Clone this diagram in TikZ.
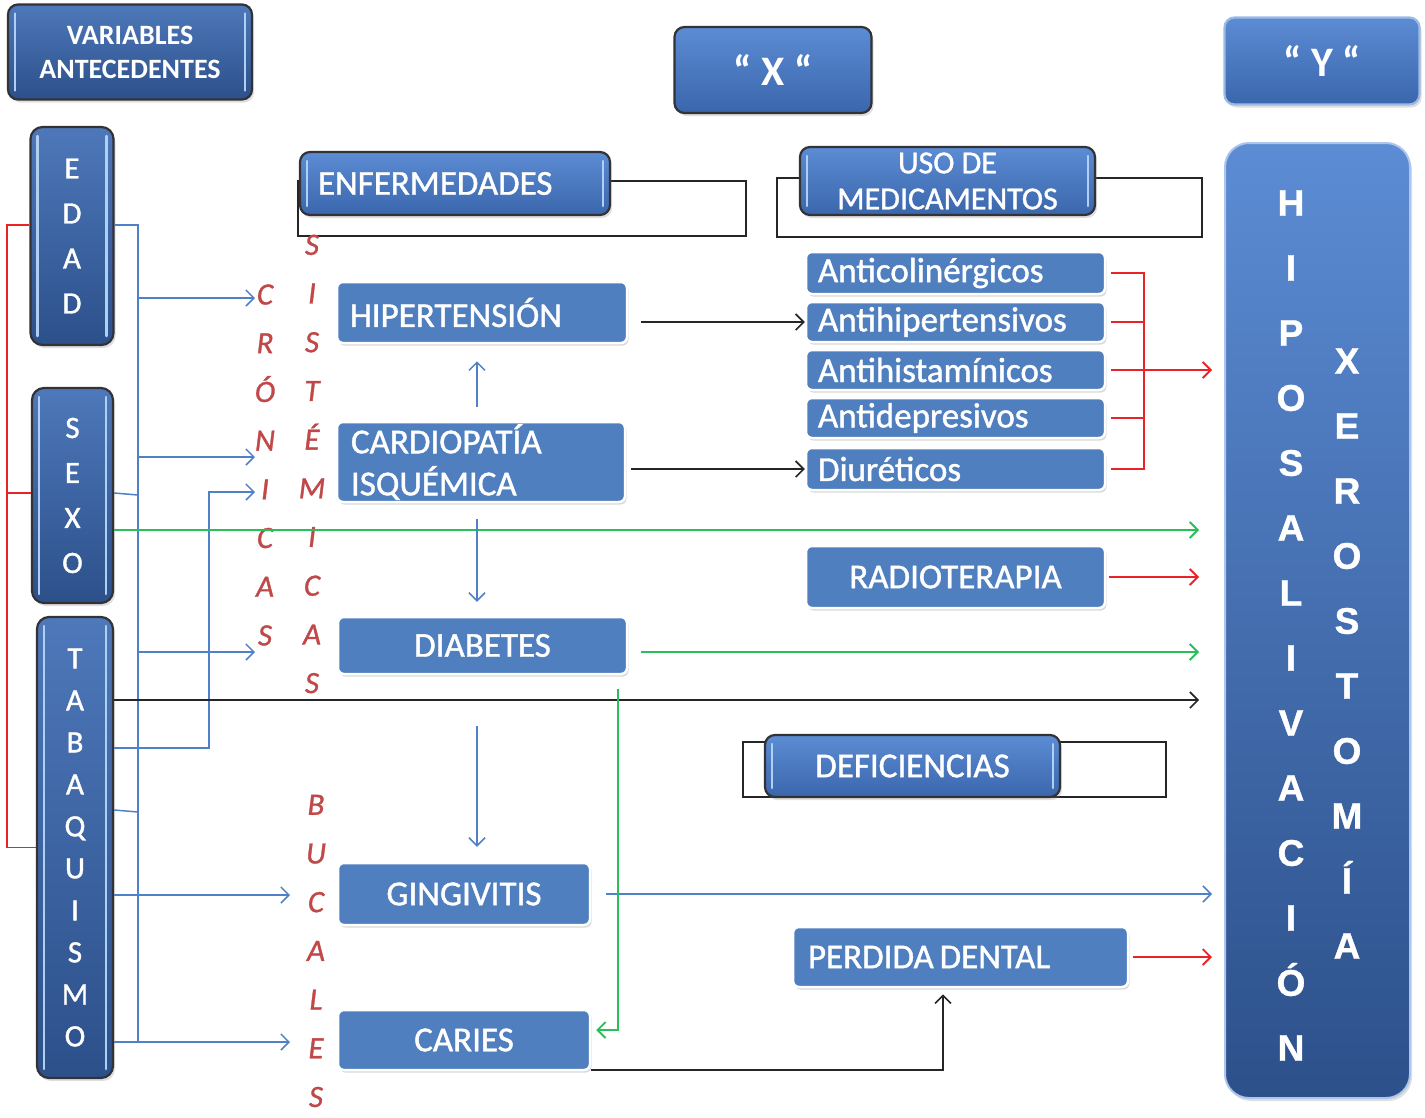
\documentclass[tikz,border=0pt]{standalone}
\usepackage{fontspec}
\setmainfont{Carlito}
\newfontfamily\thick{Carlito}[FakeBold=1.2]
\newfontfamily\thickit{Carlito}[FakeBold=1.0,UprightFont=*-Italic]
\newfontfamily\lib{Liberation Sans}[FakeBold=1.0]
\usetikzlibrary{arrows.meta,shadows}
\definecolor{hdrTop}{RGB}{78,120,186}
\definecolor{hdrBot}{RGB}{44,80,138}
\definecolor{hdrTopL}{RGB}{92,140,212}
\definecolor{hdrBotL}{RGB}{58,102,172}
\definecolor{boxblue}{RGB}{79,127,191}
\definecolor{barblue}{RGB}{175,208,242}
\definecolor{lineblue}{RGB}{79,129,200}
\definecolor{linegreen}{RGB}{40,190,90}
\definecolor{linered}{RGB}{235,35,40}
\definecolor{txtred}{RGB}{192,72,72}
\definecolor{edge}{RGB}{50,50,55}
\tikzset{
  hdr/.style={rounded corners=10pt, top color=hdrTop, bottom color=hdrBot, draw=edge,
    line width=2.2pt, text=white, inner sep=0pt, align=center,
    drop shadow={shadow xshift=2pt, shadow yshift=-3pt, opacity=0.25}},
  hdrL/.style={hdr, top color=hdrTopL, bottom color=hdrBotL},
  bars/.style={path picture={
    \draw[barblue, line width=2.5pt, line cap=round]
      ([xshift=7pt,yshift=-9pt]path picture bounding box.north west) --
      ([xshift=7pt,yshift=9pt]path picture bounding box.south west);
    \draw[barblue, line width=2.5pt, line cap=round]
      ([xshift=-7pt,yshift=-9pt]path picture bounding box.north east) --
      ([xshift=-7pt,yshift=9pt]path picture bounding box.south east);}},
  lbox/.style={rounded corners=6pt, fill=boxblue, draw=white, line width=2.5pt,
    text=white, inner sep=0pt, font=\thick\fontsize{35}{42}\selectfont,
    drop shadow={shadow xshift=1.5pt, shadow yshift=-2.5pt, opacity=0.3}},
  outl/.style={draw=black!85, line width=1.6pt, inner sep=0pt},
  vlet/.style={text=white, align=center, inner sep=0pt, font=\thick\fontsize{31}{45}\selectfont},
  redlet/.style={text=txtred, align=center, inner sep=0pt, font=\thickit\fontsize{31}{48.7}\selectfont},
  arr/.style={-{Straight Barb[length=8pt,width=16pt]}},
  bl/.style={draw=lineblue, line width=1.5pt},
  gl/.style={draw=linegreen, line width=1.8pt},
  rl/.style={draw=linered, line width=1.8pt},
  kl/.style={draw=black!85, line width=1.6pt},
}
\begin{document}
\begin{tikzpicture}[x=1pt,y=-1pt]
\useasboundingbox[fill=white] (0,0) rectangle (1425,1117);

% outline rectangles behind headers
\node[outl, minimum width=448pt, minimum height=55pt] (enfR) at (522,208.5) {};
\node[outl, minimum width=425pt, minimum height=59pt] (usoR) at (989.5,207.5) {};
\node[outl, minimum width=423pt, minimum height=55pt] (defR) at (954.5,769.5) {};

% header boxes
\node[hdr, bars, minimum width=244pt, minimum height=95pt, font=\bfseries\fontsize{28}{34}\selectfont]
  (var) at (130,52) {VARIABLES\\ANTECEDENTES};
\node[hdrL, minimum width=197pt, minimum height=86pt, font=\bfseries\fontsize{42}{44}\selectfont]
  (X) at (773,70) {“ X “};
\node[hdrL, draw=hdrTopL!60!white, minimum width=195pt, minimum height=87pt, font=\bfseries\fontsize{42}{44}\selectfont]
  (Y) at (1322,61) {“ Y “};

\node[hdr, bars, minimum width=83pt, minimum height=218pt, rounded corners=12pt] (edad) at (72,236) {};
\node[vlet] (edadT) at (edad.center) {E\\D\\A\\D};
\node[hdr, bars, minimum width=81pt, minimum height=215pt, rounded corners=12pt] (sexo) at (72.5,495.5) {};
\node[vlet] (sexoT) at (sexo.center) {S\\E\\X\\O};
\node[hdr, bars, minimum width=76pt, minimum height=461pt, rounded corners=12pt] (tabaq) at (75,847.5) {};
\node[vlet, font=\thick\fontsize{31}{42}\selectfont] (tabaqT) at (tabaq.center) {T\\A\\B\\A\\Q\\U\\I\\S\\M\\O};

\node[hdrL, bars, minimum height=63pt, text width=274pt, inner xsep=18pt, align=left,
  font=\thick\fontsize{35}{40}\selectfont] (enf) at (455,183.5) {ENFERMEDADES};
\node[hdrL, bars, minimum width=295pt, minimum height=68pt, font=\thick\fontsize{32}{36}\selectfont]
  (uso) at (947.5,181) {USO DE\\MEDICAMENTOS};
\node[hdrL, bars, minimum width=295pt, minimum height=62pt, font=\thick\fontsize{35}{40}\selectfont]
  (def) at (912.5,766) {DEFICIENCIAS};

% big outcome box
\node[rounded corners=24pt, top color=hdrTopL, bottom color=hdrBot, draw=hdrTopL!50!white,
  line width=2pt, minimum width=185pt, minimum height=955pt, inner sep=0pt,
  drop shadow={shadow xshift=2pt, shadow yshift=-3pt, opacity=0.25}] (hipo) at (1317.5,620.5) {};
\node[text=white, align=center, inner sep=0pt, font=\lib\bfseries\fontsize{37}{65}\selectfont]
  (hipoT) at (1291,625.5) {H\\I\\P\\O\\S\\A\\L\\I\\V\\A\\C\\I\\Ó\\N};
\node[text=white, align=center, inner sep=0pt, font=\lib\bfseries\fontsize{37}{65}\selectfont]
  (xeroT) at (1347,653.5) {X\\E\\R\\O\\S\\T\\O\\M\\Í\\A};

% light boxes
\node[lbox, minimum height=61pt, text width=264pt, inner xsep=13pt, align=left] (hiper) at (482,312.5) {HIPERTENSIÓN};
\node[lbox, minimum height=80pt, text width=260pt, inner xsep=14pt, align=left] (cardio) at (481,462) {CARDIOPATÍA\\ISQUÉMICA};
\node[lbox, minimum height=57pt, minimum width=289pt] (diab) at (482.5,645.5) {DIABETES};
\node[lbox, minimum height=62pt, minimum width=252pt] (ging) at (464,894) {GINGIVITIS};
\node[lbox, minimum height=60pt, minimum width=252pt] (caries) at (464,1040) {CARIES};
\node[lbox, minimum height=62pt, minimum width=299pt] (radio) at (955.5,577) {RADIOTERAPIA};
\node[lbox, minimum height=60pt, text width=305pt, inner xsep=15pt, align=left] (perd) at (960.5,957) {PERDIDA\,DENTAL};

\node[lbox, minimum height=42pt, text width=275pt, inner xsep=12pt, align=left] (anticol) at (955.5,273) {Anticolinérgicos};
\node[lbox, minimum height=40pt, text width=275pt, inner xsep=12pt, align=left] (antihip) at (955.5,322) {Antihipertensivos};
\node[lbox, minimum height=40pt, text width=275pt, inner xsep=12pt, align=left] (antihist) at (955.5,370) {Antihistamínicos};
\node[lbox, minimum height=40pt, text width=275pt, inner xsep=12pt, align=left] (antidep) at (955.5,418) {Antidepresivos};
\node[lbox, minimum height=42pt, text width=275pt, inner xsep=12pt, align=left] (diur) at (955.5,469) {Diuréticos};

% red italic vertical words
\node[redlet] (cron) at (265,465) {C\\R\\Ó\\N\\I\\C\\A\\S};
\node[redlet] (sist) at (312,464) {S\\I\\S\\T\\É\\M\\I\\C\\A\\S};
\node[redlet] (buc) at (316,951) {B\\U\\C\\A\\L\\E\\S};

% ---- connectors ----
% left red bracket
\draw[rl] ([yshift=11pt]edad.west) -- ++(-22.5,0) |- (tabaq.west);
\draw[rl] ([yshift=2.5pt]sexo.west) -- ++(-24,0);

% left blue trunk
\coordinate (bT) at ([xshift=23.5pt,yshift=11pt]edad.east);
\coordinate (aC) at (255,298);
\coordinate (aN) at (255,457);
\coordinate (aI) at (255,492);
\coordinate (aS) at (255,652);
\coordinate (aBc) at (290,895);
\coordinate (aBe) at (290,1042);
\draw[bl] ([yshift=11pt]edad.east) -- (bT) -- (bT |- aBe);
\draw[bl] ([yshift=2.5pt]sexo.east) -- ++(24,2);
\draw[bl] ([yshift=37.5pt]tabaq.east) -- ++(24,2);
\draw[bl,arr] (bT |- aC) -- (aC);
\draw[bl,arr] (bT |- aN) -- (aN);
\draw[bl,arr] (bT |- aS) -- (aS);
\draw[bl,arr] (tabaq.east |- aBc) -- (aBc);
\draw[bl,arr] (tabaq.east |- aBe) -- (aBe);
\draw[bl,arr] ([yshift=99.5pt]tabaq.east) -- ++(95,0) |- (aI);

% long lines to outcome
\draw[gl,arr,shorten >=25pt] ([yshift=-34.5pt]sexo.east) -- ([yshift=-34.5pt]sexo.east -| hipo.west);
\draw[kl,arr,shorten >=25pt] ([yshift=147.5pt]tabaq.east) -- ([yshift=147.5pt]tabaq.east -| hipo.west);
\draw[gl,arr,shorten <=13pt,shorten >=25pt] ([yshift=-6.5pt]diab.east) -- ([yshift=-6.5pt]diab.east -| hipo.west);
\draw[rl,arr,shorten <=3pt,shorten >=25pt] (radio.east) -- (radio.east -| hipo.west);
\draw[bl,arr,shorten <=15pt,shorten >=12pt] (ging.east) -- (ging.east -| hipo.west);
\draw[rl,arr,shorten <=4pt,shorten >=12pt] (perd.east) -- (perd.east -| hipo.west);

% medications bracket
\draw[rl] ([xshift=5pt]anticol.east) -- ++(33,0) |- ([xshift=5pt]diur.east);
\draw[rl] ([xshift=5pt]antihip.east) -- ++(33,0);
\draw[rl] ([xshift=5pt]antidep.east) -- ++(33,0);
\draw[rl,arr,shorten <=5pt,shorten >=12pt] (antihist.east) -- (antihist.east -| hipo.west);

% disease arrows
\draw[kl,arr,shorten <=13pt] (hiper.east |- antihip.west) -- (antihip.west);
\draw[kl,arr,shorten <=5pt] (cardio.east |- diur.west) -- (diur.west);
\draw[bl,arr,shorten <=14pt,shorten >=17pt] ([xshift=-4pt]cardio.north) -- ([xshift=-4pt]cardio.north |- hiper.south);
\draw[bl,arr,shorten <=16pt,shorten >=14pt] ([xshift=-4pt]cardio.south) -- ([xshift=-4pt]cardio.south |- diab.north);
\draw[bl,arr,shorten <=51pt,shorten >=15pt] ([xshift=-5.5pt]diab.south) -- ([xshift=-5.5pt]diab.south |- ging.north);
\coordinate (gD) at ([xshift=-10pt,yshift=-14pt]diab.south east);
\draw[gl,arr] (gD) |- ([xshift=5pt,yshift=10pt]caries.east);
\draw[kl,arr,shorten >=6pt] ([yshift=-30pt]caries.east) -| ([xshift=-17.5pt]perd.south);
\end{tikzpicture}
\end{document}
